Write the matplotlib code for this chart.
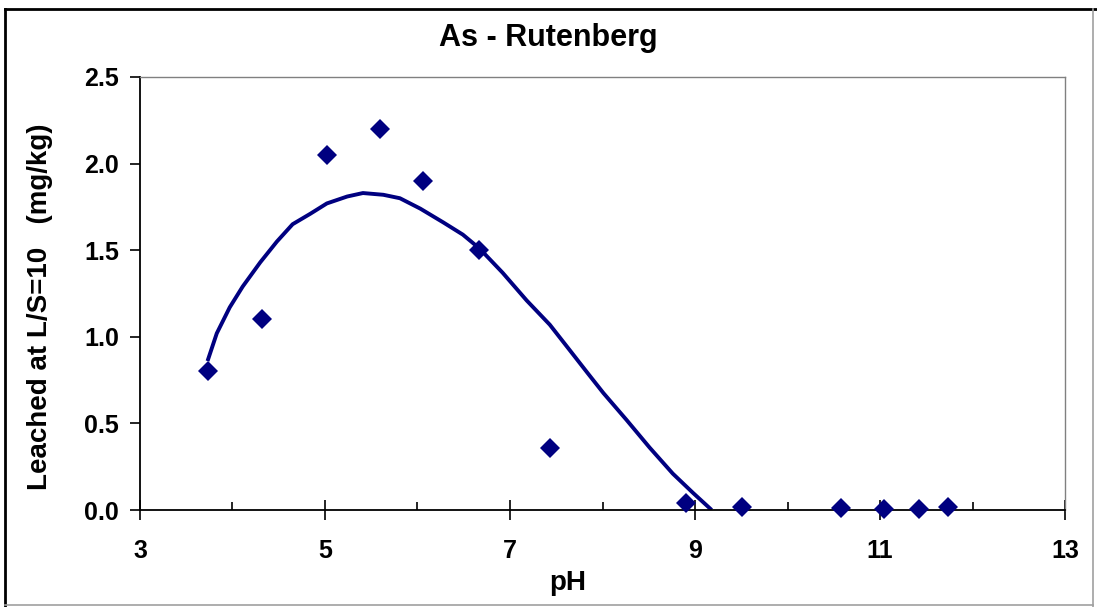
# As leaching vs pH, Rutenberg sample

import numpy as np
import matplotlib.pyplot as plt
from matplotlib.lines import Line2D
from matplotlib.ticker import MultipleLocator, FormatStrFormatter

# measured points
ph = [3.73, 4.32, 5.02, 5.59, 6.06, 6.66, 7.43, 8.90, 9.51, 10.58, 11.04, 11.42, 11.74]
leached = [0.80, 1.10, 2.05, 2.20, 1.90, 1.50, 0.36, 0.04, 0.017, 0.01, 0.006, 0.007, 0.017]

# fitted trend line
fit_ph = [3.73, 3.83, 3.97, 4.11, 4.30, 4.48, 4.65, 4.84, 5.02, 5.24, 5.41, 5.63,
          5.81, 6.03, 6.28, 6.49, 6.67, 6.92, 7.18, 7.43, 7.65, 7.84, 8.01, 8.26,
          8.51, 8.76, 8.98, 9.16, 9.18]
fit_leached = [0.86, 1.02, 1.17, 1.29, 1.43, 1.55, 1.65, 1.71, 1.77, 1.81, 1.83, 1.82,
               1.80, 1.74, 1.66, 1.59, 1.51, 1.37, 1.21, 1.07, 0.92, 0.79, 0.675, 0.52,
               0.36, 0.21, 0.098, 0.01, 0.0]

x_ticks = [3, 5, 7, 9, 11, 13]

plt.rcParams['font.family'] = ['Liberation Sans', 'DejaVu Sans']
plt.rcParams['font.weight'] = 'bold'

W, H = 1097, 607
fig = plt.figure(figsize=(W / 100, H / 100), dpi=100)
ax = fig.add_axes([140 / W, 1 - 510 / H, (1065 - 140) / W, (510 - 77) / H])

navy = '#000080'
ax.plot(fit_ph, fit_leached, color=navy, lw=2.8, solid_capstyle='butt',
        solid_joinstyle='round', zorder=2)
ax.plot(ph, leached, 'D', color=navy, markersize=10.5, markeredgewidth=0, zorder=3,
        clip_on=False)

ax.set_xlim(3, 13)
ax.set_ylim(0, 2.5)
ax.set_xticks(x_ticks)
ax.xaxis.set_minor_locator(MultipleLocator(1))
ax.yaxis.set_major_locator(MultipleLocator(0.5))
ax.yaxis.set_major_formatter(FormatStrFormatter('%.1f'))

ax.tick_params(axis='x', which='major', direction='inout', length=14, width=1.2,
               labelsize=18, pad=14)
ax.tick_params(axis='x', which='minor', direction='in', length=6, width=1.2)
ax.tick_params(axis='y', which='major', direction='out', length=7, width=1.2,
               labelsize=18, pad=8)
for lab in ax.get_xticklabels() + ax.get_yticklabels():
    lab.set_fontweight('bold')

for side in ['top', 'right']:
    ax.spines[side].set_color('#808080')
    ax.spines[side].set_linewidth(1)
for side in ['left', 'bottom']:
    ax.spines[side].set_color('black')
    ax.spines[side].set_linewidth(1.3)

# titles
fig.text(548 / W, 1 - 38 / H, 'As - Rutenberg', ha='center', va='center',
         fontsize=22, fontweight='bold')
fig.text(568 / W, 1 - 583 / H, 'pH', ha='center', va='center',
         fontsize=20, fontweight='bold')
fig.text(40 / W, 1 - 307 / H, 'Leached at L/S=10   (mg/kg)', ha='center', va='center',
         rotation=90, fontsize=20, fontweight='bold')

# chart frame
fig.add_artist(Line2D([5 / W, 5 / W], [1 - 9 / H, 0], color='black', lw=2))
fig.add_artist(Line2D([5 / W, 1], [1 - 9 / H, 1 - 9 / H], color='black', lw=2))
fig.add_artist(Line2D([1093 / W, 1093 / W], [1 - 9 / H, 0], color='#a0a0a0', lw=1.2))
fig.add_artist(Line2D([5 / W, 1093 / W], [1 - 605 / H, 1 - 605 / H], color='#a0a0a0', lw=1.2))

fig.savefig('out.png', dpi=100)
